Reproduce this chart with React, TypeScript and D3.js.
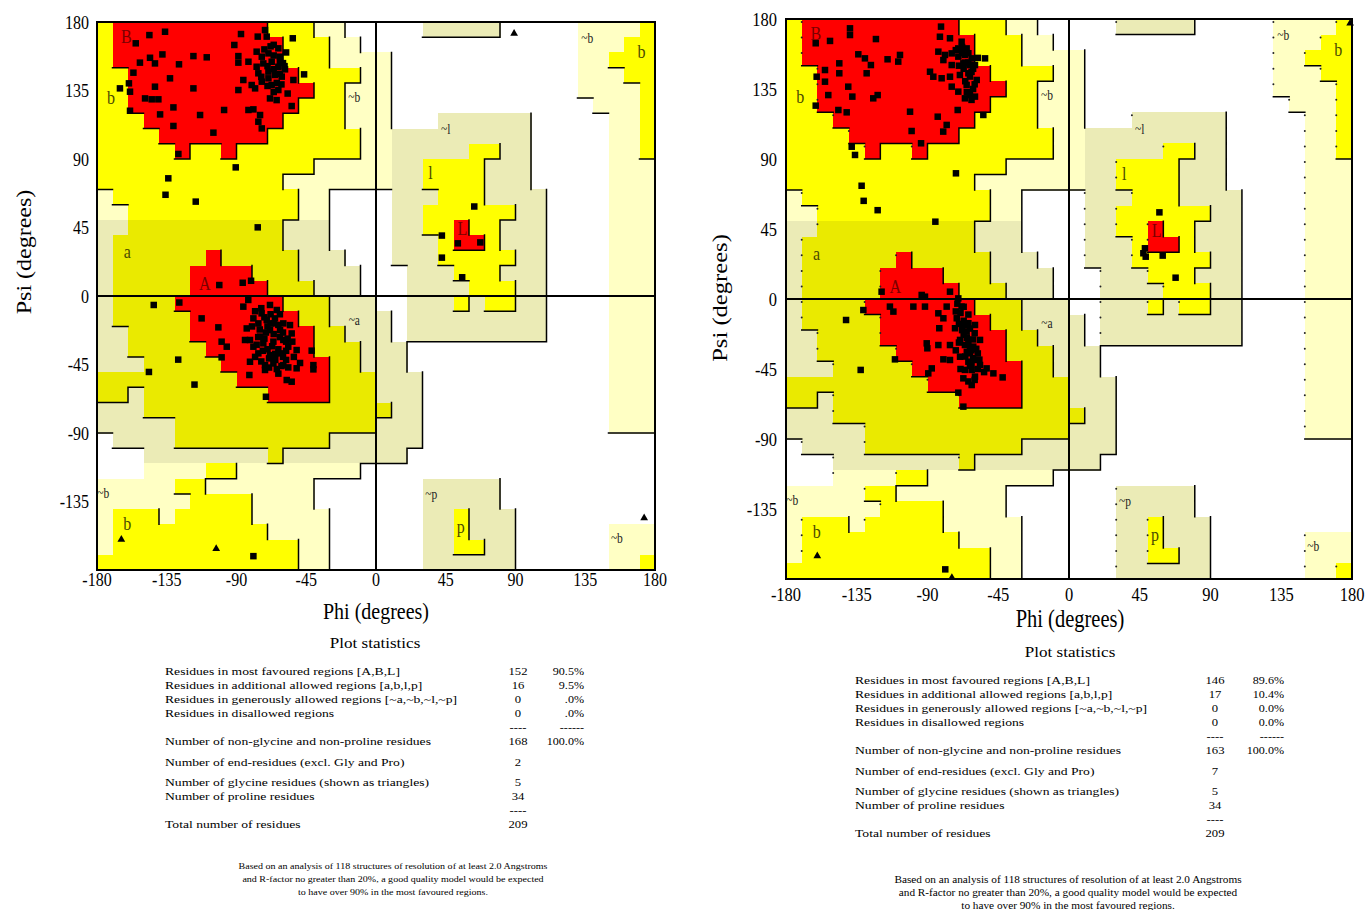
import React from 'react';
import * as d3 from 'd3';

// Ramachandran region map, 10 degree cells.
// rows: psi 180 -> -180, cols: phi -180 -> 180, run-length coded
// R core, Y allowed, y allowed (alpha tint), P generous, p generous (alpha/l/p tint), . disallowed
const REGION_RLE = [
  'Y1 R10 Y3 P2 .5 p5 .5 P4 Y1',
  'Y1 R11 Y3 P2 .14 P3 Y2',
  'Y1 R11 Y3 P4 .12 P2 Y3',
  'Y2 R11 Y4 P2 .12 P3 Y2',
  'Y2 R12 Y2 P3 .12 P4 Y1',
  'Y2 R11 Y3 P3 .13 P3 Y1',
  'Y3 R9 Y4 P3 .3 p6 .5 P2 Y1',
  'Y4 R7 Y6 P2 p9 .5 P2 Y1',
  'Y5 R1 Y2 R1 Y8 P2 p5 Y2 p2 .5 P2 Y1',
  'Y14 P5 p2 Y4 p3 .5 P3',
  'Y12 P7 p2 Y4 p3 .5 P3',
  'P1 Y12 P2 .4 p3 Y3 p4 .4 P3',
  'P2 Y11 P2 .4 p2 Y6 p2 .4 P3',
  'p2 y10 p3 .4 p2 Y2 R1 Y2 p3 .4 P3',
  'p1 y11 p3 .4 p3 Y1 R2 Y1 p3 .4 P3',
  'p1 y6 R1 y5 p3 .3 p3 Y5 p2 .4 P3',
  'p1 y5 R4 y3 p4 .3 p3 Y3 p3 .4 P3',
  'p1 y5 R5 y3 p3 .3 p4 Y3 p2 .4 P3',
  'p1 y4 R7 y3 p3 .2 p3 Y1 p1 Y2 p2 .4 P3',
  'p1 y5 R7 y2 p4 .1 p9 .4 P3',
  'p2 y4 R8 y2 p3 .1 p9 .4 P3',
  'p2 y5 R7 y3 p3 .13 P3',
  'p3 y5 R7 y2 p3 .13 P3',
  'y9 R6 y3 p3 .12 P3',
  'y2 p1 y8 R4 y3 p3 .12 P3',
  'p3 y16 p2 .12 P3',
  'p5 y13 p3 .12 P3',
  '.1 p4 y10 p6 .15',
  '.3 p8 y1 p8 .16',
  '.3 P4 Y2 P8 .19',
  'P5 Y2 P7 .7 p5 .10',
  'P6 Y4 P4 .7 p5 .10',
  'P1 Y3 P1 Y5 P5 .6 p2 Y1 p3 .9',
  'P1 Y10 P4 .6 p2 Y1 p3 .6 P3',
  'P1 Y12 P2 .6 p2 Y2 p2 .6 P3',
  'Y13 P2 .6 p6 .6 P2 Y1',
];

const REGION_LABELS = [
  { text: 'B', phi: -161, psi: 169.5, kind: 'core' },
  { text: 'b', phi: -171, psi: 129, kind: 'allowed' },
  { text: '~b', phi: -14, psi: 130, kind: 'generous' },
  { text: 'a', phi: -160.5, psi: 28, kind: 'allowed' },
  { text: 'A', phi: -110.5, psi: 7, kind: 'core' },
  { text: '~a', phi: -14, psi: -16.7, kind: 'generous' },
  { text: '~b', phi: -176, psi: -130.3, kind: 'generous' },
  { text: 'b', phi: -160.5, psi: -150.6, kind: 'allowed' },
  { text: '~l', phi: 45, psi: 108.6, kind: 'generous' },
  { text: 'l', phi: 35.2, psi: 79.7, kind: 'allowed' },
  { text: 'L', phi: 55.8, psi: 43, kind: 'core' },
  { text: '~p', phi: 35.6, psi: -131, kind: 'generous' },
  { text: 'p', phi: 54.7, psi: -152.4, kind: 'allowed' },
  { text: '~b', phi: 136.3, psi: 168.6, kind: 'generous' },
  { text: 'b', phi: 171.3, psi: 159.4, kind: 'allowed' },
  { text: '~b', phi: 155.4, psi: -160, kind: 'generous' },
];

const AXIS_TICKS = [-180, -135, -90, -45, 0, 45, 90, 135, 180];

// [phi, psi] of non-glycine residues
const LEFT_SQUARES = [
  [-136.1, 173.6], [-146.2, 171.4], [-155.0, 166.0], [-87.1, 172.1], [-76.3, 170.4], [-71.6, 174.7],
  [-70.5, 170.4], [-53.7, 169.3], [-91.4, 164.9], [-137.8, 158.7], [-145.8, 156.5], [-142.6, 152.8],
  [-152.3, 153.3], [-127.1, 152.2], [-117.8, 157.6], [-109.2, 156.8], [-88.8, 157.6], [-88.8, 153.3],
  [-82.3, 153.9], [-77.0, 160.5], [-73.7, 157.2], [-69.4, 159.4], [-63.0, 162.7], [-61.9, 157.2],
  [-77.0, 150.6], [-72.7, 152.8], [-67.3, 153.9], [-63.0, 150.6], [-58.7, 148.9], [-75.9, 146.3],
  [-69.4, 147.4], [-65.1, 145.2], [-60.8, 144.1], [-53.3, 141.9], [-46.4, 145.6], [-156.5, 146.7],
  [-132.9, 143.0], [-159.4, 139.7], [-165.2, 136.4], [-158.7, 134.2], [-142.6, 137.5], [-117.8, 136.4],
  [-85.6, 141.9], [-80.2, 138.6], [-73.7, 140.8], [-69.4, 143.0], [-78.0, 136.4], [-67.3, 138.6],
  [-63.0, 135.3], [-88.8, 135.3], [-149.0, 129.8], [-144.7, 129.2], [-140.4, 129.2], [-68.4, 129.8],
  [-64.1, 128.7], [-54.4, 124.8], [-130.7, 123.9], [-158.7, 121.7], [-139.3, 119.3], [-113.5, 118.9],
  [-98.0, 122.2], [-82.3, 122.2], [-79.1, 122.6], [-74.8, 118.9], [-75.9, 114.5], [-73.7, 110.1],
  [-130.7, 111.7], [-104.9, 107.3], [-127.5, 93.3], [-90.5, 84.5], [-134.0, 77.3], [-135.8, 66.5],
  [-116.3, 62.0], [-76.3, 45.1], [-66, 165], [-60, 153], [-72, 162], [-64, 140], [-57, 133],
  [-68, 164], [-66, 158], [-62, 154], [-59, 151], [-70, 151], [-66, 149], [-62, 146], [-70, 138],
  [-66, 134], [-61, 139], [-74, 144], [-58, 160],
  [-101.1, 7.2], [-86.0, 8.7], [-80.6, 10.0], [-112.5, -14.7], [-85.6, -7.0], [-82.4, -2.6],
  [-68.4, -5.9], [-73.8, -11.4], [-64.0, -9.2], [-101.7, -20.6], [-79.1, -14.7], [-83.4, -21.3],
  [-75.9, -18.0], [-70.5, -15.8], [-65.2, -14.7], [-59.8, -18.0], [-55.5, -19.1], [-54.4, -24.6],
  [-61.9, -22.4], [-68.4, -22.4], [-74.8, -26.7], [-81.3, -28.9], [-84.5, -28.9], [-99.6, -30.0],
  [-96.3, -33.3], [-79.1, -33.3], [-72.7, -31.1], [-66.2, -30.0], [-59.8, -28.9], [-56.6, -33.3],
  [-51.2, -35.5], [-41.5, -35.9], [-75.9, -37.7], [-68.4, -38.8], [-61.9, -37.7], [-99.6, -40.3],
  [-81.3, -43.2], [-71.6, -45.4], [-66.2, -44.3], [-59.8, -45.4], [-56.6, -46.9], [-51.2, -47.5],
  [-40.4, -45.4], [-40.4, -48.2], [-81.7, -51.9], [-71.6, -48.6], [-57.6, -55.2], [-54.4, -56.3],
  [-71.0, -66.2], [-143.4, -5.9], [-126.9, -4.3], [-127.6, -41.8], [-146.5, -49.9], [-117.1, -58.2],
  [-70, -20], [-66, -25], [-63, -35], [-70, -35], [-60, -40], [-65, -42], [-58, -30], [-72, -28],
  [-68, -18], [-62, -12], [-75, -22], [-77, -32], [-64, -48], [-69, -41], [-74, -8],
  [-78, -10], [-72, -14], [-66, -18], [-60, -24], [-57, -28], [-62, -27], [-67, -33], [-73, -36],
  [-78, -40], [-74, -43], [-69, -47], [-63, -51], [-58, -42], [-53, -40], [-49, -44], [-54, -30],
  [-71, -24], [-76, -27], [-80, -20], [-63, -19], [-68, -12], [-58, -36], [-65, -38], [-61, -46],
  [63.4, 58.8], [42.5, 39.7], [52.8, 34.6], [67.3, 35.2], [42.5, 25.2], [55.6, 12.3],
  [-79.1, -170.9],
];
const LEFT_TRIANGLES = [[89.1, 172.5], [173.0, -145.9], [-164.3, -159.9], [-103.1, -166.0]];

const RIGHT_SQUARES = [
  [-139.3, 174.0], [-139.3, 169.7], [-152.0, 165.9], [-161.1, 164.4], [-122.8, 167.1], [-81.4, 175.1],
  [-82.1, 168.6], [-75.7, 167.6], [-68.3, 165.4], [-70.4, 161.1], [-65.1, 161.1], [-83.1, 159.0],
  [-78.9, 156.9], [-74.6, 157.9], [-70.4, 155.8], [-66.2, 156.9], [-61.9, 154.7], [-67.2, 151.5],
  [-63.0, 150.4], [-59.8, 150.4], [-53.4, 154.7], [-74.6, 150.4], [-79.9, 153.6], [-134.0, 157.3],
  [-129.8, 154.7], [-126.0, 150.4], [-128.7, 145.1], [-115.4, 154.1], [-107.5, 156.9], [-108.6, 152.6],
  [-146.1, 151.5], [-155.2, 147.2], [-146.1, 145.1], [-160.5, 142.9], [-155.2, 139.7], [-140.4, 136.5],
  [-153.1, 131.1], [-137.8, 130.1], [-124.5, 129.0], [-121.7, 131.1], [-161.1, 124.3], [-146.7, 121.5],
  [-141.4, 120.0], [-88.4, 146.1], [-86.3, 142.9], [-81.0, 141.9], [-75.7, 142.9], [-69.4, 144.0],
  [-64.0, 145.1], [-58.7, 140.8], [-74.6, 136.5], [-70.4, 133.3], [-65.1, 137.6], [-63.0, 131.1],
  [-66.2, 129.0], [-59.8, 130.1], [-70.8, 121.5], [-54.5, 118.3], [-101.1, 120.4], [-83.5, 117.2],
  [-77.8, 111.9], [-80.0, 107.6], [-100.1, 108.0], [-94.1, 100.1], [-138.2, 97.9], [-136.1, 92.6],
  [-71.9, 80.8], [-131.9, 72.8], [-130.6, 63.1], [-121.7, 57.1], [-85.0, 49.7],
  [-62, 146], [-66, 140], [-61, 135], [-67, 148], [-64, 158],
  [-72, 160], [-68, 158], [-64, 152], [-61, 148], [-66, 152], [-70, 150], [-63, 143], [-60, 138],
  [-65, 133], [-62, 128], [-68, 162], [-58, 155],
  [57.5, 55.7], [48.3, 32.6], [47.3, 29.4], [48.8, 27.2], [59.6, 27.9], [67.8, 13.7],
  [-119.2, 4.7], [-93.7, 2.6], [-91.6, 1.5], [-75.7, 4.7], [-130.8, -7.1], [-113.9, -4.9],
  [-111.7, -8.1], [-99.0, -4.9], [-91.6, -4.9], [-77.8, -4.9], [-70.4, 0.4], [-68.3, -4.9],
  [-141.8, -13.5], [-83.1, -9.2], [-79.9, -12.4], [-71.4, -12.4], [-64.0, -15.6], [-59.8, -16.7],
  [-82.5, -18.8], [-72.5, -18.8], [-65.1, -21.0], [-56.6, -26.3], [-90.5, -28.5], [-90.1, -31.7],
  [-83.1, -29.6], [-75.7, -29.6], [-69.3, -26.3], [-66.2, -29.6], [-60.9, -30.6], [-63.0, -34.9],
  [-69.3, -37.1], [-110.7, -38.8], [-79.9, -38.8], [-75.7, -39.2], [-64.0, -40.3], [-59.8, -39.2],
  [-56.6, -42.4], [-87.3, -44.6], [-89.5, -47.8], [-66.2, -45.6], [-61.9, -45.6], [-52.4, -44.6],
  [-48.1, -47.8], [-42.2, -50.4], [-132.5, -45.6], [-67.2, -51.0], [-59.8, -49.9], [-61.9, -55.3],
  [-70.4, -60.2], [-67.2, -69.2],
  [-68, -20], [-65, -25], [-62, -33], [-66, -37], [-63, -43], [-70, -28], [-64, -10], [-67, -5],
  [-60, -22], [-58, -35],
  [-71, -3], [-69, -9], [-67, -14], [-66, -17], [-63, -19], [-67, -23], [-64, -27], [-61, -26],
  [-63, -31], [-59, -32], [-65, -34], [-61, -38], [-57, -39], [-62, -42], [-58, -45], [-54, -47],
  [-60, -52], [-64, -53], [-69, -45], [-72, -33], [-70, -16], [-72, -8],
  [-78.7, -173.8],
];
const RIGHT_TRIANGLES = [[-160.1, -165.2], [-74.5, -179.1], [178.8, 177.2]];

const STAT_LABELS = [
  'Residues in most favoured regions  [A,B,L]',
  'Residues in additional allowed regions  [a,b,l,p]',
  'Residues in generously allowed regions  [~a,~b,~l,~p]',
  'Residues in disallowed regions',
  '',
  'Number of non-glycine and non-proline residues',
  'Number of end-residues (excl. Gly and Pro)',
  'Number of glycine residues (shown as triangles)',
  'Number of proline residues',
  '',
  'Total number of residues',
];
const LEFT_COUNTS = ['152', '16', '0', '0', '----', '168', '2', '5', '34', '----', '209'];
const LEFT_PCTS = ['90.5%', '9.5%', '.0%', '.0%', '------', '100.0%', '', '', '', '', ''];
const RIGHT_COUNTS = ['146', '17', '0', '0', '----', '163', '7', '5', '34', '----', '209'];
const RIGHT_PCTS = ['89.6%', '10.4%', '0.0%', '0.0%', '------', '100.0%', '', '', '', '', ''];

const FOOTNOTE = [
  'Based on an analysis of 118 structures of resolution of at least 2.0 Angstroms',
  'and R-factor no greater than 20%, a good quality model would be expected',
  'to have over 90% in the most favoured regions.',
];

const GRID = REGION_RLE.map((s) => s.split(' ').map((t) => t[0].repeat(+t.slice(1))).join(''));
GRID.forEach((g, i) => { if (g.length !== 36) console.error('row', i, g.length); });

const LEVEL = { R: 3, Y: 2, y: 2, P: 1, p: 1, '.': 0 };
const FILL = { R: '#ff0000', Y: '#ffff00', y: '#eaea00', P: '#ffffc4', p: '#ebebb6' };
const LABEL_STYLE = {
  core: { size: 16, fill: '#7a0000' },
  allowed: { size: 16, fill: '#4a4a00' },
  generous: { size: 11.5, fill: '#222' },
};
const ROW_OFFSETS = [0, 13.5, 27.5, 41.5, 56, 70, 90.5, 111, 125, 139, 153];
const STRETCH = 1.2; // the scanned figure is taller than wide

const LEFT = {
  x0: 97, x1: 655, y0: 22, y1: 570, yTickX: 89, xTickY: 586, tick: 16,
  phiX: 376, phiY: 619, psiX: 31, psiY: 252, title: 20,
  statX: 375, statY: 648, rowsX: 165, countX: 518, pctX: 584, rowsY: 675,
  footX: 393, footY: 869, foot: 8.8, footSx: 1.14, sq: 6.5,
};
const RIGHT = {
  x0: 786, x1: 1352, y0: 19, y1: 579, yTickX: 777, xTickY: 601, tick: 16.5,
  phiX: 1070, phiY: 627, psiX: 727, psiY: 298, title: 20.5,
  statX: 1070, statY: 657, rowsX: 855, countX: 1215, pctX: 1284, rowsY: 684,
  footX: 1068, footY: 883, foot: 9.8, footSx: 1.15, sq: 6.5,
};

const T = ({ x, y, size, anchor = 'start', rotate = false, fill = '#000', sx = 1, sy = STRETCH, children }) => (
  <text
    transform={`translate(${x},${y}) scale(${sx},${sy})${rotate ? ' rotate(-90)' : ''}`}
    fontSize={size}
    textAnchor={anchor}
    fill={fill}
  >
    {children}
  </text>
);

const Panel = ({ lay, squares, triangles, counts, pcts, dotted }) => {
  const x = d3.scaleLinear().domain([-180, 180]).range([lay.x0, lay.x1]);
  const y = d3.scaleLinear().domain([-180, 180]).range([lay.y1, lay.y0]);
  const lvl = (r, c) => LEVEL[GRID[r][c]];

  const cells = [];
  let edges = '';
  const dots = [];
  for (let r = 0; r < 36; r++) {
    for (let c = 0; c < 36; c++) {
      const k = GRID[r][c];
      const p0 = -180 + c * 10, p1 = p0 + 10;
      const s1 = 180 - r * 10, s0 = s1 - 10;
      if (k !== '.') {
        cells.push(
          <rect key={`${r}-${c}`} x={x(p0)} y={y(s1)} width={x(p1) - x(p0) + 0.5}
            height={y(s0) - y(s1) + 0.5} fill={FILL[k]} />
        );
      }
      if (c < 35 && lvl(r, c) > lvl(r, c + 1)) edges += `M${x(p1)},${y(s1)}V${y(s0)}`;
      if (r < 35 && lvl(r, c) > lvl(r + 1, c)) edges += `M${x(p0)},${y(s0)}H${x(p1)}`;
      if (dotted && c > 0 && lvl(r, c) > lvl(r, c - 1)) {
        dots.push(<circle key={`d${r}-${c}`} cx={x(p0)} cy={y(s1) + 3} r={1} fill="#222" />);
      }
    }
  }

  const tri = d3.symbol(d3.symbolTriangle, 26)();

  return (
    <g>
      <g shapeRendering="crispEdges">{cells}</g>
      <path d={edges} fill="none" stroke="#000" strokeWidth={1.5} strokeLinecap="square" />
      {dots}
      <g shapeRendering="crispEdges" fill="none" stroke="#000">
        <rect x={lay.x0} y={lay.y0} width={lay.x1 - lay.x0} height={lay.y1 - lay.y0} strokeWidth={1.2} />
        <line x1={x(0)} x2={x(0)} y1={lay.y0} y2={lay.y1} strokeWidth={1.2} />
        <line x1={lay.x0} x2={lay.x1} y1={y(0)} y2={y(0)} strokeWidth={1.2} />
      </g>

      {REGION_LABELS.map((l, i) => (
        <T key={i} x={x(l.phi)} y={y(l.psi) + LABEL_STYLE[l.kind].size * 0.3} size={LABEL_STYLE[l.kind].size}
          anchor="middle" fill={LABEL_STYLE[l.kind].fill}>{l.text}</T>
      ))}

      {squares.map(([phi, psi], i) => (
        <rect key={i} x={x(phi) - lay.sq / 2} y={y(psi) - lay.sq / 2} width={lay.sq} height={lay.sq} fill="#000" />
      ))}
      {triangles.map(([phi, psi], i) => (
        <path key={i} d={tri} transform={`translate(${x(phi)},${y(psi)})`} fill="#000" />
      ))}

      {AXIS_TICKS.map((t) => (
        <T key={`x${t}`} x={x(t)} y={lay.xTickY} size={lay.tick} anchor="middle">{t}</T>
      ))}
      {AXIS_TICKS.filter((t) => t !== -180).map((t) => (
        <T key={`y${t}`} x={lay.yTickX} y={y(t) + lay.tick * 0.42} size={lay.tick} anchor="end">{t}</T>
      ))}
      <T x={lay.phiX} y={lay.phiY} size={lay.title} anchor="middle">Phi (degrees)</T>
      <T x={lay.psiX} y={lay.psiY} size={lay.title} anchor="middle" rotate>Psi (degrees)</T>

      <T x={lay.statX} y={lay.statY} size={14} sx={1.22} sy={1.05} anchor="middle">Plot statistics</T>
      {STAT_LABELS.map((s, i) => (
        <g key={i}>
          {s && <T x={lay.rowsX} y={lay.rowsY + ROW_OFFSETS[i]} size={11} sx={1.24} sy={1}>{s}</T>}
          <T x={lay.countX} y={lay.rowsY + ROW_OFFSETS[i]} size={11} sx={1.15} sy={1} anchor="middle">{counts[i]}</T>
          {pcts[i] && (
            <T x={lay.pctX} y={lay.rowsY + ROW_OFFSETS[i]} size={11} sx={1.1} sy={1} anchor="end">{pcts[i]}</T>
          )}
        </g>
      ))}
      {FOOTNOTE.map((s, i) => (
        <T key={i} x={lay.footX} y={lay.footY + i * 13} size={lay.foot} sx={lay.footSx} sy={1} anchor="middle">{s}</T>
      ))}
    </g>
  );
};

export default function App() {
  return (
    <svg
      width={1371}
      height={910}
      style={{ position: 'absolute', left: 0, top: 0, background: '#fff' }}
      fontFamily="'Liberation Serif', 'Times New Roman', serif"
    >
      <rect width={1371} height={910} fill="#fff" />
      <Panel lay={LEFT} squares={LEFT_SQUARES} triangles={LEFT_TRIANGLES}
        counts={LEFT_COUNTS} pcts={LEFT_PCTS} dotted={false} />
      <Panel lay={RIGHT} squares={RIGHT_SQUARES} triangles={RIGHT_TRIANGLES}
        counts={RIGHT_COUNTS} pcts={RIGHT_PCTS} dotted />
    </svg>
  );
}
